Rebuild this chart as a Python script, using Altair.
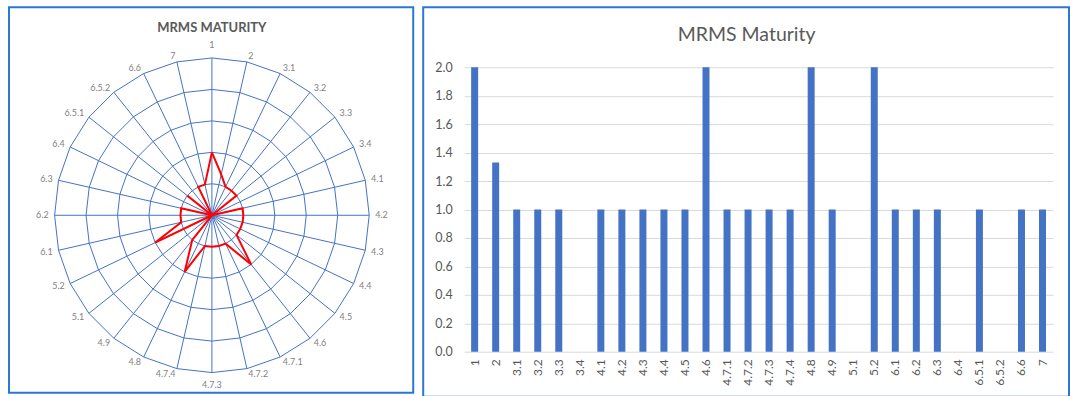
import altair as alt
import numpy as np
import pandas as pd

# ---- data -------------------------------------------------------------
criteria = ["1", "2", "3.1", "3.2", "3.3", "3.4", "4.1", "4.2", "4.3", "4.4",
            "4.5", "4.6", "4.7.1", "4.7.2", "4.7.3", "4.7.4", "4.8", "4.9",
            "5.1", "5.2", "6.1", "6.2", "6.3", "6.4", "6.5.1", "6.5.2", "6.6", "7"]
scores = [2, 1.33, 1, 1, 1, 0, 1, 1, 1, 1,
          1, 2, 1, 1, 1, 1, 2, 1,
          0, 2, 1, 1, 1, 0, 1, 0, 1, 1]
ring_levels = [1, 2, 3, 4, 5]
bar_ticks = [0.0, 0.2, 0.4, 0.6, 0.8, 1.0, 1.2, 1.4, 1.6, 1.8, 2.0]

radar_title = "MRMS MATURITY"
bar_title = "MRMS Maturity"

# ---- styling ----------------------------------------------------------
FONT = "Lato"
TEXT_GREY = "#595959"
LABEL_GREY = "#7F7F7F"
WEB_BLUE = "#4472C4"
BAR_BLUE = "#4472C4"
LINE_RED = "#FF0000"
GRID_GREY = "#D9D9D9"
FRAME_BLUE = "#2B78D0"

# ---- radar geometry (values in score units) ---------------------------
N = len(criteria)
RMAX = max(ring_levels)
PXU = 31.52                      # pixels per score unit on the web
angles = 2 * np.pi * np.arange(N) / N
sin_a, cos_a = np.sin(angles), np.cos(angles)

closed = list(range(N)) + [0]

rings = pd.DataFrame(
    [{"level": lv, "k": k, "x": lv * sin_a[i], "y": lv * cos_a[i]}
     for lv in ring_levels for k, i in enumerate(closed)]
)
spokes = pd.DataFrame({"x0": 0.0, "y0": 0.0, "x1": RMAX * sin_a, "y1": RMAX * cos_a})
profile = pd.DataFrame(
    [{"k": k, "x": scores[i] * sin_a[i], "y": scores[i] * cos_a[i]}
     for k, i in enumerate(closed)]
)


def label_row(i):
    s, c = sin_a[i], cos_a[i]
    align = "left" if s > 0.2 else ("right" if s < -0.2 else "center")
    baseline = "bottom" if c > 0.99 else ("top" if c < -0.99 else "middle")
    gap = 8 if baseline != "middle" else 6
    r = RMAX + gap / PXU
    return {"criterion": criteria[i], "x": r * s, "y": r * c,
            "align": align, "baseline": baseline}


labels = pd.DataFrame([label_row(i) for i in range(N)])

RW, RH = 405, 386
CX, CY = 203.3, 208.3
xs = alt.Scale(domain=[-CX / PXU, (RW - CX) / PXU], nice=False, zero=False)
ys = alt.Scale(domain=[-(RH - CY) / PXU, CY / PXU], nice=False, zero=False)
X = lambda f: alt.X(f, scale=xs, axis=None)
Y = lambda f: alt.Y(f, scale=ys, axis=None)

web_spokes = alt.Chart(spokes).mark_rule(color=WEB_BLUE, strokeWidth=1).encode(
    x=X("x0:Q"), y=Y("y0:Q"), x2="x1:Q", y2="y1:Q"
)
web_rings = alt.Chart(rings).mark_line(color=WEB_BLUE, strokeWidth=1).encode(
    x=X("x:Q"), y=Y("y:Q"), detail="level:N", order="k:Q"
)
score_line = alt.Chart(profile).mark_line(color=LINE_RED, strokeWidth=2).encode(
    x=X("x:Q"), y=Y("y:Q"), order="k:Q"
)

label_layers = []
for (a, b), _ in labels.groupby(["align", "baseline"]):
    label_layers.append(
        alt.Chart(labels)
        .transform_filter((alt.datum.align == a) & (alt.datum.baseline == b))
        .mark_text(align=a, baseline=b, font=FONT, fontSize=9, color=LABEL_GREY)
        .encode(x=X("x:Q"), y=Y("y:Q"), text="criterion:N")
    )

radar_head = alt.Chart(pd.DataFrame({"t": [radar_title]})).mark_text(
    font=FONT, fontSize=13, fontWeight="bold", color=TEXT_GREY,
    align="center", baseline="middle"
).encode(text="t:N", x=alt.value(CX), y=alt.value(21))

radar = alt.layer(web_spokes, web_rings, score_line, *label_layers, radar_head).properties(
    width=RW, height=RH
)

# ---- bar chart --------------------------------------------------------
BW, BH = 647, 390
PLOT_L, PLOT_R = 41, 631
PLOT_T, PLOT_B = 60, 345

bar_df = pd.DataFrame({"criterion": criteria, "score": scores})

bars = alt.Chart(bar_df).mark_bar(size=7, color=BAR_BLUE).encode(
    x=alt.X(
        "criterion:N", sort=criteria,
        scale=alt.Scale(range=[PLOT_L, PLOT_R], paddingInner=0, paddingOuter=0),
        axis=alt.Axis(title=None, orient="bottom", offset=PLOT_B - BH, labelAngle=-90,
                      domain=False, ticks=False, tickSize=0, grid=False, labelPadding=7,
                      labelFont=FONT, labelFontSize=12, labelColor=TEXT_GREY),
    ),
    y=alt.Y(
        "score:Q",
        scale=alt.Scale(domain=[0, 2], range=[PLOT_B, PLOT_T], nice=False, zero=True),
        axis=alt.Axis(title=None, values=bar_ticks, format=".1f", offset=-PLOT_L,
                      domain=False, ticks=False, tickSize=0, labelPadding=12,
                      grid=True, gridColor=GRID_GREY, gridWidth=1,
                      labelFont=FONT, labelFontSize=12.5, labelColor=TEXT_GREY),
    ),
)

bar_head = alt.Chart(pd.DataFrame({"t": [bar_title]})).mark_text(
    font=FONT, fontSize=19.5, color=TEXT_GREY, align="center", baseline="middle"
).encode(text="t:N", x=alt.value(324), y=alt.value(28))

bar_chart = alt.layer(bars, bar_head).properties(width=BW, height=BH)

chart = (
    alt.hconcat(radar, bar_chart, spacing=8)
    .properties(padding={"left": 8, "top": 6, "right": 0, "bottom": 0}, background="white")
    .configure_view(stroke=FRAME_BLUE, strokeWidth=2)
)

chart.save("out.html", embed_options={"renderer": "svg", "actions": False})
